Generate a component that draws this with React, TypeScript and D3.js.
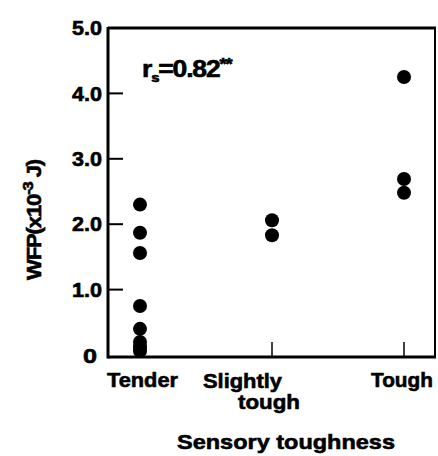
import React from 'react';
import * as d3 from 'd3';

const categories = ['Tender', 'Slightly tough', 'Tough'];
const tenderValues = [2.3, 1.87, 1.56, 0.75, 0.4, 0.2, 0.12, 0.06];
const slightlyValues = [2.06, 1.83];
const toughValues = [4.25, 2.69, 2.48];
const yTicks = [0, 1, 2, 3, 4, 5];
const yTickLabels = ['0', '1.0', '2.0', '3.0', '4.0', '5.0'];

const points = [
  ...tenderValues.map(v => ({ cat: 'Tender', v })),
  ...slightlyValues.map(v => ({ cat: 'Slightly tough', v })),
  ...toughValues.map(v => ({ cat: 'Tough', v })),
];

const font = "'Liberation Sans', Arial, sans-serif";
// heavier look like the scanned original
const ink = { fill: '#000', stroke: '#000', strokeWidth: 0.6 };

export default function App() {
  const left = 108, right = 435, top = 28, bottom = 357;

  const x = d3.scalePoint<string>().domain(categories).range([140, 404]);
  const y = d3.scaleLinear().domain([0, 5]).range([355, top]);

  return (
    <svg width={438} height={456} style={{ position: 'absolute', left: 0, top: 0 }}
      fontFamily={font} fontWeight="bold">
      <rect width={438} height={456} fill="#fff" />

      {/* frame */}
      <line x1={left} x2={left} y1={top - 1} y2={bottom + 1.5} stroke="#000" strokeWidth={3} />
      <line x1={left} x2={right + 1} y1={top} y2={top} stroke="#000" strokeWidth={3} />
      <line x1={right} x2={right} y1={top} y2={bottom} stroke="#000" strokeWidth={2} />
      <line x1={left} x2={right + 1} y1={bottom} y2={bottom} stroke="#000" strokeWidth={3} />

      {/* y ticks */}
      {yTicks.filter(t => t > 0 && t < 5).map(t => (
        <line key={t} x1={left} x2={left + 15} y1={y(t)} y2={y(t)} stroke="#000" strokeWidth={2} />
      ))}
      {yTicks.map((t, i) => (
        <text key={t} x={t === 0 ? 83 : 72} y={t === 0 ? 356 : y(t)} dy="0.36em" {...ink}
          fontSize={20} textLength={t === 0 ? 14 : 30} lengthAdjust="spacingAndGlyphs">{yTickLabels[i]}</text>
      ))}

      {/* x ticks */}
      {categories.map(c => (
        <line key={c} x1={x(c)} x2={x(c)} y1={bottom} y2={bottom - 15} stroke="#000" strokeWidth={1.5} />
      ))}

      {/* x labels */}
      <text x={107} y={387} fontSize={21} {...ink} textLength={71} lengthAdjust="spacingAndGlyphs">Tender</text>
      <text x={203} y={388} fontSize={21} {...ink} textLength={79} lengthAdjust="spacingAndGlyphs">Slightly</text>
      <text x={238} y={409} fontSize={21} {...ink} textLength={62} lengthAdjust="spacingAndGlyphs">tough</text>
      <text x={371} y={387} fontSize={21} {...ink} textLength={62} lengthAdjust="spacingAndGlyphs">Tough</text>

      <text x={177} y={449} fontSize={21} {...ink} textLength={218} lengthAdjust="spacingAndGlyphs">Sensory toughness</text>

      {/* y label */}
      <text transform="translate(41,220) rotate(-90) scale(1.1,1)" textAnchor="middle" fontSize={20}
        letterSpacing={-1} {...ink}>
        WFP(x10<tspan dy={-8} fontSize={15}>-3</tspan><tspan dy={8}> J)</tspan>
      </text>

      {/* annotation */}
      <text transform="translate(142,77) scale(1.15,1)" fontSize={23} letterSpacing={-1} {...ink}>
        r<tspan dy={5} fontSize={13}>s</tspan><tspan dy={-5}>=0.82</tspan><tspan dy={-7} fontSize={16}>**</tspan>
      </text>

      {/* points */}
      {points.map((p, i) => (
        <circle key={i} cx={x(p.cat)} cy={y(p.v)} r={7} fill="#000" />
      ))}
    </svg>
  );
}
